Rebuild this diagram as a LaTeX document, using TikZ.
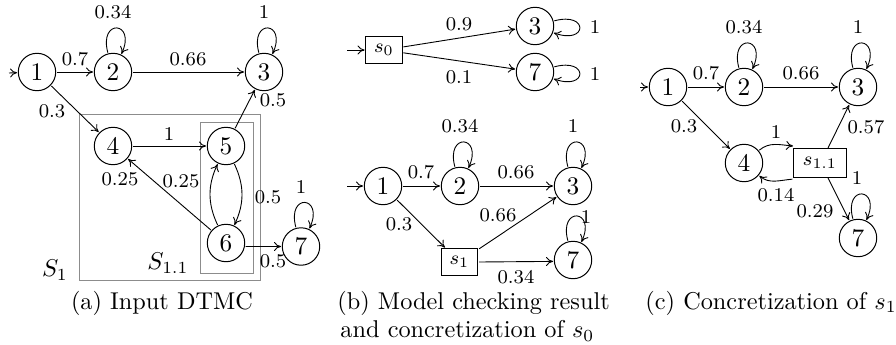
\documentclass[tikz,border=0pt]{standalone}
\usetikzlibrary{arrows.meta}
\tikzset{
  st/.style={circle,draw,line width=1pt,inner sep=0pt,minimum size=14.8pt,scale=2.53,font=\normalsize},
  bx/.style={rectangle,draw,line width=1pt,inner sep=0pt,scale=2.43,font=\fontsize{8}{10}\selectfont},
  lb/.style={inner sep=0pt,scale=2.43,font=\fontsize{8}{10}\selectfont},
  captext/.style={inner sep=0pt,scale=2.43,font=\normalsize},
  ed/.style={->,line width=0.9pt,>={To[length=7pt,width=9pt]}},
  region/.style={draw=black!45,line width=1pt,inner sep=0pt},
  lpu/.style={ed,out=105,in=65,out distance=36pt,in distance=36pt},
  lpr/.style={ed,out=15,in=-20,out distance=36pt,in distance=36pt}
}
\begin{document}
\begin{tikzpicture}[x=1pt,y=-1pt]
\useasboundingbox (0,0) rectangle (896,345);
% panel a
\node[region,minimum width=181pt,minimum height=166pt] (S1) at (169.5,197) {};
\node[region,minimum width=53pt,minimum height=151pt] (S11) at (226.5,197.5) {};
\node[st] (a1) at (37,72) {1};
\node[st] (a2) at (113,72) {2};
\node[st] (a3) at (264,72) {3};
\node[st] (a4) at (113,146) {4};
\node[st] (a5) at (226,146) {5};
\node[st] (a6) at (226,243) {6};
\node[st] (a7) at (301,246.5) {7};
\coordinate (ai) at (9,73);
\draw[ed] (ai) -- (a1);
\draw[ed] (a1) -- (a2);
\draw[ed] (a2) -- (a3);
\draw[ed] (a1) -- (a4);
\draw[ed] (a4) -- (a5);
\draw[ed] (a5) -- (a3);
\draw[ed] (a6) -- (a4);
\draw[ed] (a6.-10) -- (a7.west);
\draw[ed] (a5) to[bend left=25] (a6);
\draw[ed] (a6) to[bend left=25] (a5);
\draw[lpu] (a2) to (a2);
\draw[lpu] (a3) to (a3);
\draw[lpu] (a7) to (a7);
\node[lb] (la1) at (75,59) {0.7};
\node[lb] (la2) at (113,12) {0.34};
\node[lb] (la3) at (188,59) {0.66};
\node[lb] (la4) at (264,12) {1};
\node[lb] (la5) at (52,111) {0.3};
\node[lb] (la6) at (273,100) {0.5};
\node[lb] (la7) at (169,134) {1};
\node[lb] (la8) at (120,179) {0.25};
\node[lb] (la9) at (181,181) {0.25};
\node[lb] (la10) at (268,197) {0.5};
\node[lb] (la11) at (301,187) {1};
\node[lb] (la12) at (273,261) {0.5};
\node[captext] (sa) at (55,270) {$S_1$};
\node[captext] (sb) at (168,263) {$S_{1.1}$};
\node[captext] (ca) at (162,303) {(a) Input DTMC};
% panel b top
\node[bx,minimum width=15pt,minimum height=10.9pt] (s0) at (384,50) {$s_0$};
\node[st] (b3) at (535,26) {3};
\node[st] (b7) at (535,72) {7};
\coordinate (bi) at (347,50);
\draw[ed] (bi) -- (s0);
\draw[ed] (s0) -- (b3);
\draw[ed] (s0) -- (b7);
\draw[lpr] (b3) to (b3);
\draw[lpr] (b7) to (b7);
\node[lb] (lb1) at (459,24) {0.9};
\node[lb] (lb2) at (459,77) {0.1};
\node[lb] (lb3) at (595,27) {1};
\node[lb] (lb4) at (595,74) {1};
% panel b bottom
\node[st] (c1) at (383,186) {1};
\node[st] (c2) at (460,186) {2};
\node[st] (c3) at (573,186) {3};
\node[st] (c7) at (573,260) {7};
\node[bx,minimum width=15.2pt,minimum height=10.9pt] (s1) at (459.5,262) {$s_1$};
\coordinate (ci) at (347,186);
\draw[ed] (ci) -- (c1);
\draw[ed] (c1) -- (c2);
\draw[ed] (c2) -- (c3);
\draw[ed] (c1) -- (s1);
\draw[ed] (s1) -- (c3);
\draw[ed] (s1.east) -- (c7.184);
\draw[lpu] (c2) to (c2);
\draw[lpu] (c3) to (c3);
\draw[lpu] (c7) to (c7);
\node[lb] (lc1) at (421,172) {0.7};
\node[lb] (lc2) at (460,126) {0.34};
\node[lb] (lc3) at (516,172) {0.66};
\node[lb] (lc4) at (573,126) {1};
\node[lb] (lc5) at (399,224) {0.3};
\node[lb] (lc6) at (498,215) {0.66};
\node[lb] (lc7) at (586,217) {1};
\node[lb] (lc8) at (516,277) {0.34};
\node[captext,anchor=west] (cb1) at (337,303) {(b) Model checking result};
\node[captext,anchor=west] (cb2) at (340,331) {and concretization of $s_0$};
% panel c
\node[st] (d1) at (668,87) {1};
\node[st] (d2) at (744,87) {2};
\node[st] (d3) at (858,87) {3};
\node[st] (d4) at (744,163) {4};
\node[st] (d7) at (858,238) {7};
\node[bx,minimum width=21.8pt,minimum height=12.3pt] (s11) at (820,163) {$s_{1.1}$};
\coordinate (di) at (640,87);
\coordinate (p1) at (828,148);
\coordinate (p2) at (828,178);
\coordinate (p3) at (793,146);
\draw[ed] (di) -- (d1);
\draw[ed] (d1) -- (d2);
\draw[ed] (d2) -- (d3);
\draw[ed] (d1) -- (d4);
\draw[ed] (p1) -- (d3);
\draw[ed] (p2) -- (d7);
\draw[ed] (d4) to[out=40,in=175] (p3);
\draw[ed] (s11.south west) to[out=185,in=-40] (d4);
\draw[lpu] (d2) to (d2);
\draw[lpu] (d3) to (d3);
\draw[lpu] (d7) to (d7);
\node[lb] (ld1) at (706,73) {0.7};
\node[lb] (ld2) at (744,27) {0.34};
\node[lb] (ld3) at (801,73) {0.66};
\node[lb] (ld4) at (858,27) {1};
\node[lb] (ld5) at (684,126) {0.3};
\node[lb] (ld6) at (866,127) {0.57};
\node[lb] (ld7) at (776,132) {1};
\node[lb] (ld8) at (776,195) {0.14};
\node[lb] (ld9) at (815,211) {0.29};
\node[lb] (ld10) at (857,178) {1};
\node[captext,anchor=west] (cc) at (645,303) {(c) Concretization of $s_1$};
\end{tikzpicture}
\end{document}
